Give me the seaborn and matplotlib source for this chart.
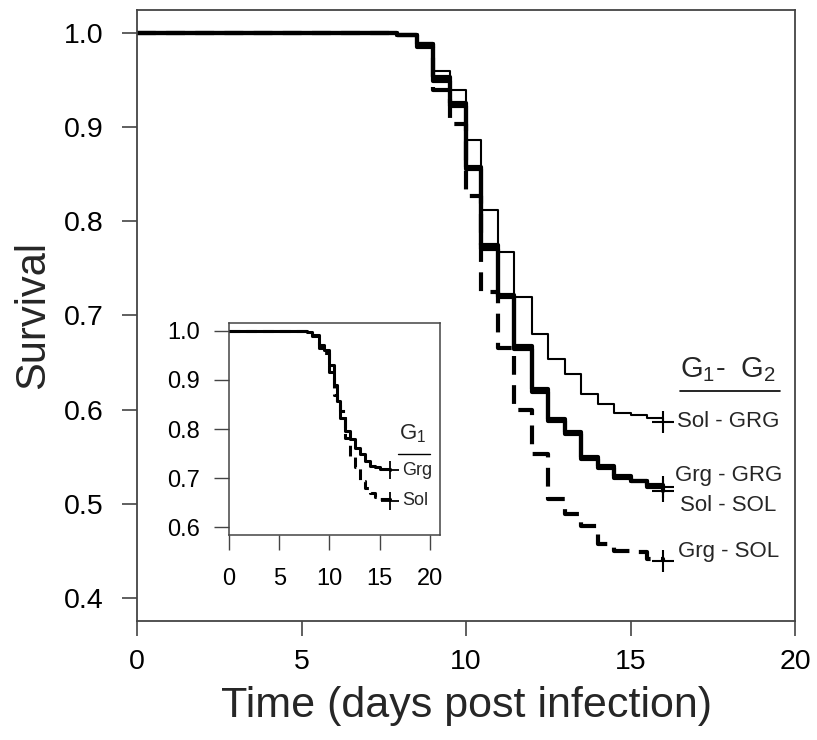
import matplotlib
matplotlib.use('Agg')
import matplotlib.pyplot as plt
import seaborn as sns

# main panel: day of each drop and survival after it
times = [0, 7.9, 8.5, 9.0, 9.5, 10.0, 10.47, 10.98, 11.46, 12.0, 12.5, 13.0, 13.5, 14.0, 14.5, 15.0, 15.5, 16.0]
sol_grg = [1.0, 0.998, 0.988, 0.959, 0.939, 0.886, 0.812, 0.767, 0.720, 0.680, 0.654, 0.638, 0.617, 0.606, 0.597, 0.594, 0.591, 0.587]
grg_grg = [1.0, 0.998, 0.988, 0.949, 0.922, 0.857, 0.771, 0.720, 0.665, 0.619, 0.588, 0.574, 0.548, 0.540, 0.528, 0.525, 0.520, 0.518]
sol_sol = [1.0, 0.997, 0.985, 0.953, 0.925, 0.855, 0.775, 0.722, 0.668, 0.622, 0.590, 0.576, 0.550, 0.538, 0.530, 0.524, 0.518, 0.514]
grg_sol = [1.0, 0.998, 0.988, 0.939, 0.903, 0.827, 0.725, 0.666, 0.600, 0.553, 0.505, 0.490, 0.477, 0.458, 0.450, 0.449, 0.442, 0.440]
main_labels = ['Sol - GRG', 'Grg - GRG', 'Sol - SOL', 'Grg - SOL']

# inset: pooled by G1
inset_times = [0, 7.8, 8.3, 9.0, 9.5, 10.0, 10.4, 10.7, 11.0, 11.5, 12.0, 12.5, 13.0, 13.5, 14.0, 14.5, 15.0, 16.0]
inset_grg = [1.0, 0.997, 0.991, 0.971, 0.962, 0.930, 0.890, 0.857, 0.823, 0.796, 0.779, 0.762, 0.749, 0.735, 0.725, 0.722, 0.719, 0.717]
inset_sol = [1.0, 0.997, 0.990, 0.966, 0.955, 0.917, 0.870, 0.850, 0.836, 0.782, 0.742, 0.722, 0.695, 0.680, 0.670, 0.662, 0.658, 0.653]
inset_labels = ['Grg', 'Sol']

sns.set_style('ticks')
plt.rcParams['font.family'] = ['Liberation Sans', 'DejaVu Sans']
plt.rcParams['mathtext.fontset'] = 'custom'
plt.rcParams['mathtext.rm'] = 'Liberation Sans'
plt.rcParams['mathtext.it'] = 'Liberation Sans:italic'

fig = plt.figure(figsize=(8.17, 7.4), dpi=100)
ax = fig.add_axes([0.1677, 0.1608, 0.8054, 0.8257])

thin = dict(color='black', lw=1.5)
thick = dict(color='black', lw=3.0)
dashed = dict(color='black', lw=3.0, linestyle=(0, (4.5, 2.5)))
styles = [thin, thick, thick, dashed]
for vals, st in zip([sol_grg, grg_grg, sol_sol, grg_sol], styles):
    sns.lineplot(x=times, y=vals, ax=ax, drawstyle='steps-post', estimator=None, **st)
    ax.plot(times[-1], vals[-1], marker='+', color='black', ms=16, mew=1.5)

ax.set_xlim(0, 20)
ax.set_ylim(0.376, 1.024)
ax.set_xticks([0, 5, 10, 15, 20])
ax.set_yticks([0.4, 0.5, 0.6, 0.7, 0.8, 0.9, 1.0])
ax.set_yticklabels(['0.4', '0.5', '0.6', '0.7', '0.8', '0.9', '1.0'])
ax.tick_params(labelsize=20.5, length=11, width=1.2, colors='#444444', labelcolor='black')
ax.tick_params(axis='y', pad=13)
ax.tick_params(axis='x', pad=9)
ax.set_xlabel('Time (days post infection)', fontsize=31, labelpad=8)
ax.set_ylabel('Survival', fontsize=30, labelpad=8)
for sp in ax.spines.values():
    sp.set_visible(True)
    sp.set_color('#444444')
    sp.set_linewidth(1.3)

# end-of-curve labels
ax.text(17.98, 0.643, r'$\mathregular{G_1}$-  $\mathregular{G_2}$', fontsize=21, ha='center', va='center')
ax.plot([16.5, 19.55], [0.620, 0.620], color='black', lw=1.2)
lab_y = [0.588, 0.530, 0.498, 0.450]
for lab, yy in zip(main_labels, lab_y):
    ax.text(17.98, yy, lab, fontsize=16, ha='center', va='center')

# inset
ins = fig.add_axes([0.2803, 0.2770, 0.2583, 0.2865])
sns.lineplot(x=inset_times, y=inset_grg, ax=ins, drawstyle='steps-post', estimator=None, color='black', lw=2.2)
sns.lineplot(x=inset_times, y=inset_sol, ax=ins, drawstyle='steps-post', estimator=None, color='black', lw=2.2,
             linestyle=(0, (3.5, 2)))
for vals in [inset_grg, inset_sol]:
    ins.plot(inset_times[-1], vals[-1], marker='+', color='black', ms=13, mew=1.3)
ins.set_xlim(0, 21)
ins.set_ylim(0.584, 1.016)
ins.set_xticks([0, 5, 10, 15, 20])
ins.set_yticks([0.6, 0.7, 0.8, 0.9, 1.0])
ins.set_yticklabels(['0.6', '0.7', '0.8', '0.9', '1.0'])
ins.tick_params(labelsize=17, length=11, width=1.0, colors='#444444', labelcolor='black')
ins.tick_params(axis='y', pad=10)
ins.tick_params(axis='x', pad=13)
for sp in ins.spines.values():
    sp.set_visible(True)
    sp.set_color('#444444')
    sp.set_linewidth(1.1)
ins.text(18.3, 0.79, r'$\mathregular{G_1}$', fontsize=16, ha='center', va='center')
ins.plot([16.8, 20.0], [0.75, 0.75], color='black', lw=1.0)
for lab, yy, xx in zip(inset_labels, [0.715, 0.655], [18.7, 18.55]):
    ins.text(xx, yy, lab, fontsize=13, ha='center', va='center')

fig.savefig('out.png', dpi=100)
